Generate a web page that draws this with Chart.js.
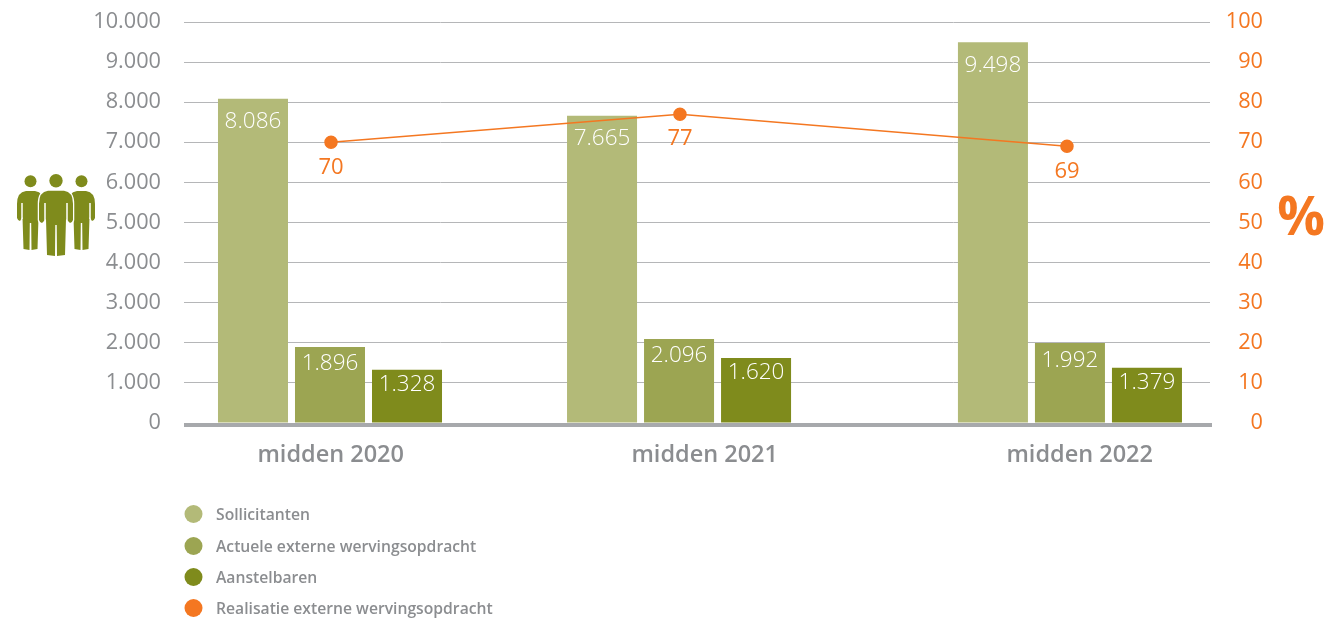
<!DOCTYPE html>
<html lang="nl">
<head>
<meta charset="utf-8">
<title>Sollicitanten en aanstelbaren</title>
<script src="https://cdn.jsdelivr.net/npm/chart.js@4"></script>
<style>
  html, body { margin: 0; background: #fff; }
  canvas { display: block; }
</style>
</head>
<body>
<canvas id="chart" width="1329" height="622"></canvas>
<script>
const categories = ['midden 2020', 'midden 2021', 'midden 2022'];
const sollicitanten = [8086, 7665, 9498];
const actueleOpdracht = [1896, 2096, 1992];
const aanstelbaren = [1328, 1620, 1379];
const realisatie = [70, 77, 69];

const leftTicks = [0, 1000, 2000, 3000, 4000, 5000, 6000, 7000, 8000, 9000, 10000];
const rightTicks = [0, 10, 20, 30, 40, 50, 60, 70, 80, 90, 100];

// the groups are not evenly spaced in the original, so x is a 0-100 linear axis
const groupSlots = [14.23, 48.25, 86.35];
const lineSlots = [14.33, 48.34, 86.06];
const labelSlots = [14.3, 50.75, 87.3];

const GREY = '#8b8d90';
const ORANGE = '#f47721';
const OLIVE = '#7f8b1c';

const font = (size, weight) => ({ family: '"Open Sans"', size: size, weight: weight });
const atSlots = (slots, values) => values.map((v, i) => ({ x: slots[i], y: v }));
const dotted = n => String(n).replace(/\B(?=(\d{3})+$)/g, '.');

function bar(label, values, color, labelOffset) {
    return {
        label: label,
        data: atSlots(groupSlots, values),
        backgroundColor: color,
        yAxisID: 'y',
        categoryPercentage: 231 / 349,
        barPercentage: 70 / 77,
        labelOffset: labelOffset,
        order: 2
    };
}

// value labels inside the bars and under the line points
const valueLabels = {
    id: 'valueLabels',
    afterDatasetsDraw(chart) {
        const ctx = chart.ctx;
        ctx.save();
        ctx.textAlign = 'center';
        ctx.textBaseline = 'middle';
        chart.data.datasets.forEach((ds, i) => {
            const meta = chart.getDatasetMeta(i);
            meta.data.forEach((el, j) => {
                if (ds.type === 'line') {
                    ctx.font = '400 22px "Open Sans"';
                    ctx.fillStyle = ORANGE;
                    ctx.fillText(ds.data[j].y, el.x, el.y + 25);
                } else {
                    ctx.font = '300 22.5px "Open Sans"';
                    ctx.fillStyle = '#fff';
                    ctx.fillText(dotted(ds.data[j].y), el.x, el.y + ds.labelOffset);
                }
            });
        });
        ctx.restore();
    }
};

const baseline = {
    id: 'baseline',
    afterDatasetsDraw(chart) {
        const { ctx, chartArea } = chart;
        ctx.save();
        ctx.fillStyle = '#a7a9ac';
        ctx.fillRect(chartArea.left, chartArea.bottom, chartArea.right - chartArea.left + 2, 4);
        ctx.restore();
    }
};

// the original legend is a vertical list under the chart, left aligned with the axis
const sideLegend = {
    id: 'sideLegend',
    afterDraw(chart) {
        const ctx = chart.ctx;
        const rows = [514, 546, 577, 608];
        ctx.save();
        ctx.textBaseline = 'middle';
        ctx.textAlign = 'left';
        ctx.font = '600 15.7px "Open Sans"';
        chart.data.datasets.forEach((ds, i) => {
            ctx.fillStyle = ds.type === 'line' ? ORANGE : ds.backgroundColor;
            ctx.beginPath();
            ctx.arc(193.5, rows[i], 9, 0, Math.PI * 2);
            ctx.fill();
            ctx.fillStyle = GREY;
            ctx.fillText(ds.label, 216, rows[i] + 1.5);
        });
        ctx.restore();
    }
};

function person(ctx, cx, headY, r, top, w, armBot, legW, bot) {
    ctx.beginPath();
    ctx.arc(cx, headY, r, 0, Math.PI * 2);
    ctx.fill();
    ctx.beginPath();
    ctx.moveTo(cx - w + 9, top);
    ctx.lineTo(cx + w - 9, top);
    ctx.quadraticCurveTo(cx + w, top + 1, cx + w, top + 13);
    ctx.lineTo(cx + w, armBot - 3);
    ctx.quadraticCurveTo(cx + w - 1, armBot, cx + w - 3, armBot);
    ctx.lineTo(cx + legW, armBot - 4);
    ctx.lineTo(cx + legW - 1, bot - 1);
    ctx.lineTo(cx + 1, bot);
    ctx.lineTo(cx + 0.7, armBot + 2);
    ctx.lineTo(cx - 0.7, armBot + 2);
    ctx.lineTo(cx - 1, bot);
    ctx.lineTo(cx - legW + 1, bot - 1);
    ctx.lineTo(cx - legW, armBot - 4);
    ctx.lineTo(cx - w + 3, armBot);
    ctx.quadraticCurveTo(cx - w + 1, armBot, cx - w, armBot - 3);
    ctx.lineTo(cx - w, top + 13);
    ctx.quadraticCurveTo(cx - w, top + 1, cx - w + 9, top);
    ctx.closePath();
}

// people icon on the left, % sign on the right
const axisSymbols = {
    id: 'axisSymbols',
    afterDraw(chart) {
        const ctx = chart.ctx;
        ctx.save();
        ctx.fillStyle = OLIVE;
        ctx.strokeStyle = '#fff';
        ctx.lineJoin = 'round';
        person(ctx, 30.5, 181.3, 6, 191, 13.5, 221, 8, 250);
        ctx.fill();
        person(ctx, 81.5, 181.3, 6, 191, 13.5, 221, 8, 250);
        ctx.fill();
        person(ctx, 56, 180.7, 6.7, 190.7, 17, 223, 10, 256);
        ctx.lineWidth = 2.5;
        ctx.stroke();
        ctx.fill();
        ctx.lineWidth = 1.5;
        [-1, 1].forEach(s => {
            ctx.beginPath();
            ctx.moveTo(56 + s * 11, 203);
            ctx.lineTo(56 + s * 11, 221);
            ctx.stroke();
            [30.5, 81.5].forEach(cx => {
                if ((cx < 56 && s < 0) || (cx > 56 && s > 0)) {
                    ctx.beginPath();
                    ctx.moveTo(cx + s * 8.5, 203);
                    ctx.lineTo(cx + s * 8.5, 219);
                    ctx.stroke();
                }
            });
        });
        ctx.fillStyle = ORANGE;
        ctx.font = '700 53px "Open Sans"';
        ctx.textAlign = 'center';
        ctx.textBaseline = 'middle';
        ctx.fillText('%', 1301, 220);
        ctx.restore();
    }
};

new Chart(document.getElementById('chart'), {
    type: 'bar',
    data: {
        datasets: [
            bar('Sollicitanten', sollicitanten, '#b3ba78', 23),
            bar('Actuele externe wervingsopdracht', actueleOpdracht, '#9ca552', 17),
            bar('Aanstelbaren', aanstelbaren, OLIVE, 15),
            {
                type: 'line',
                label: 'Realisatie externe wervingsopdracht',
                data: atSlots(lineSlots, realisatie),
                yAxisID: 'y1',
                borderColor: ORANGE,
                backgroundColor: ORANGE,
                borderWidth: 1.5,
                pointRadius: 6,
                pointHoverRadius: 6,
                tension: 0,
                order: 1
            }
        ]
    },
    options: {
        responsive: false,
        animation: false,
        layout: { padding: { top: 22, left: 0, right: 66, bottom: 0 } },
        plugins: {
            legend: { display: false },
            tooltip: { enabled: false }
        },
        scales: {
            x: {
                type: 'linear',
                offset: false,
                min: 0,
                max: 100,
                grid: { display: false },
                border: { display: false },
                afterBuildTicks: s => { s.ticks = labelSlots.map(v => ({ value: v })); },
                afterFit: s => { s.height = 199; s.paddingLeft = 0; s.paddingRight = 0; },
                ticks: {
                    autoSkip: false,
                    maxRotation: 0,
                    padding: 10,
                    color: GREY,
                    font: font(23.5, 600),
                    callback: (v, i) => categories[i]
                }
            },
            y: {
                position: 'left',
                min: 0,
                max: 10000,
                afterBuildTicks: s => { s.ticks = leftTicks.map(v => ({ value: v })); },
                afterFit: s => { s.width = 184; s.paddingTop = 0; s.paddingBottom = 0; },
                grid: { color: '#b5b6b8', lineWidth: 1, tickLength: 0 },
                border: { display: false },
                ticks: {
                    padding: 23,
                    color: GREY,
                    font: font(21.7, 400),
                    callback: v => dotted(v)
                }
            },
            y1: {
                position: 'right',
                min: 0,
                max: 100,
                afterBuildTicks: s => { s.ticks = rightTicks.map(v => ({ value: v })); },
                afterFit: s => { s.width = 53; s.paddingTop = 0; s.paddingBottom = 0; },
                grid: { drawOnChartArea: false, drawTicks: false, tickLength: 0 },
                border: { display: false },
                ticks: {
                    padding: 16,
                    crossAlign: 'far',
                    color: ORANGE,
                    font: font(21.7, 400)
                }
            }
        }
    },
    plugins: [baseline, valueLabels, sideLegend, axisSymbols]
});
</script>
</body>
</html>
